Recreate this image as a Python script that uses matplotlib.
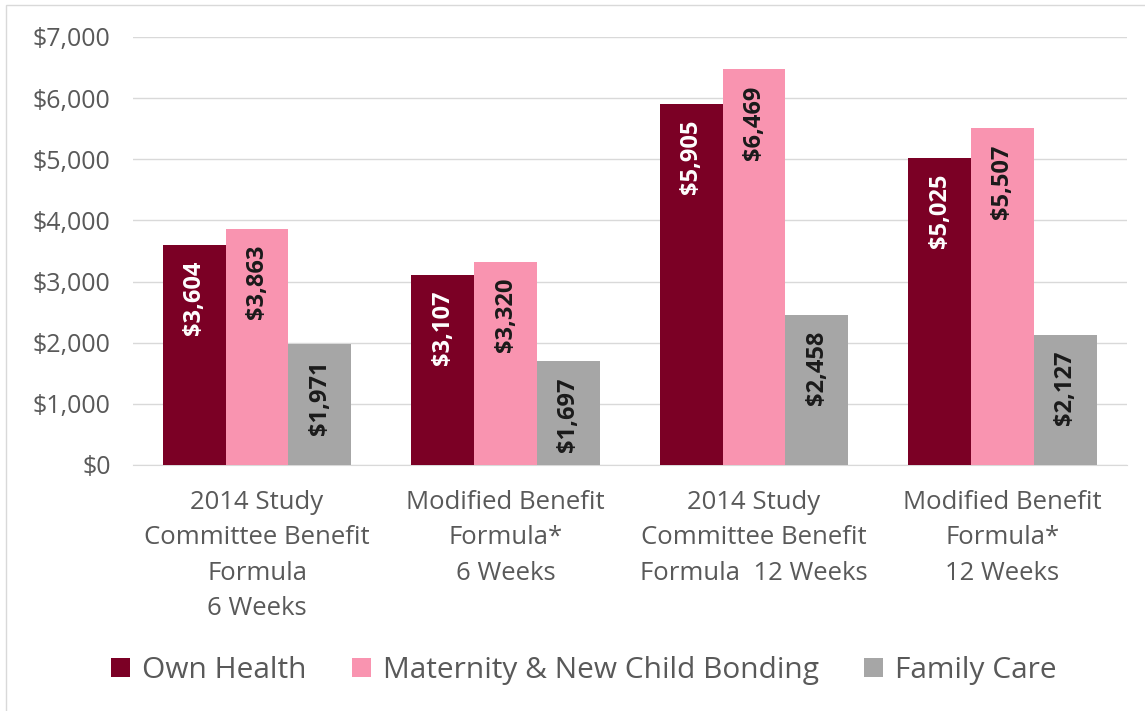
import matplotlib
matplotlib.use("Agg")
import matplotlib.pyplot as plt
import numpy as np

categories = ["2014 Study\nCommittee Benefit\nFormula\n6 Weeks",
              "Modified Benefit\nFormula*\n6 Weeks",
              "2014 Study\nCommittee Benefit\nFormula  12 Weeks",
              "Modified Benefit\nFormula*\n12 Weeks"]
own_health = [3604, 3107, 5905, 5025]
maternity = [3863, 3320, 6469, 5507]
family_care = [1971, 1697, 2458, 2127]
series_names = ["Own Health", "Maternity & New Child Bonding", "Family Care"]
colors = ["#7B0025", "#F994B0", "#A6A6A6"]
label_colors = ["white", "#1a1a1a", "#1a1a1a"]

plt.rcParams['font.family'] = ['Open Sans', 'DejaVu Sans']

fig = plt.figure(figsize=(11.45, 7.11), dpi=100)
ax = fig.add_axes([0.116, 0.346, 0.868, 0.602])

x = np.arange(len(categories))
w = 0.253
for i, (vals, name) in enumerate(zip([own_health, maternity, family_care], series_names)):
    pos = x + (i - 1) * w
    ax.bar(pos, vals, width=w, color=colors[i], label=name, zorder=3)
    for p, v in zip(pos, vals):
        ax.text(p, v - 260, f'${v:,}', rotation=90, ha='center', va='top',
                fontsize=17, fontweight='bold', color=label_colors[i], zorder=4)

ax.set_xlim(-0.5, 3.5)
ax.set_ylim(0, 7000)
ax.set_yticks(range(0, 7001, 1000))
ax.set_yticklabels([f'${v:,}' for v in range(0, 7001, 1000)])
ax.set_xticks(x)
ax.set_xticklabels(categories, linespacing=1.55)
ax.yaxis.grid(True, color='#D9D9D9', linewidth=1, zorder=0)
for s in ['top', 'right', 'left']:
    ax.spines[s].set_visible(False)
ax.spines['bottom'].set_color('#D9D9D9')
ax.tick_params(axis='both', length=0, colors='#595959')
ax.tick_params(axis='y', labelsize=18, pad=16)
ax.tick_params(axis='x', labelsize=18.5, pad=18)

leg = fig.legend(loc='center', bbox_to_anchor=(0.51, 0.057), ncol=3, frameon=False,
                 fontsize=21.5, handlelength=0.65, handleheight=0.65,
                 handletextpad=0.4, columnspacing=1.5)
for t in leg.get_texts():
    t.set_color('#595959')

# chart area border
fig.patches.append(plt.Rectangle((0.005, -0.01), 1.0, 1.003, transform=fig.transFigure,
                                 fill=False, edgecolor='#D9D9D9', linewidth=1))

fig.savefig('out.png', dpi=100)
